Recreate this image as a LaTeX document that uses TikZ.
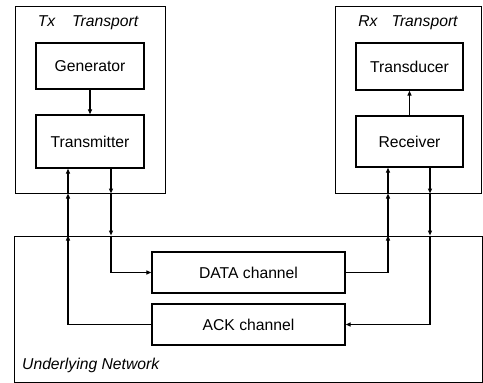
\documentclass[tikz,border=0pt]{standalone}
\usepackage{fontspec}
\setmainfont{Liberation Sans}
\usetikzlibrary{arrows.meta}
\begin{document}
\begin{tikzpicture}[x=1pt,y=-1pt,
  outerbox/.style={draw,line width=1pt,inner sep=0pt},
  innerbox/.style={draw,line width=1.3pt,inner sep=0pt,font=\fontsize{15.7}{18}\selectfont},
  titletext/.style={inner sep=0pt,font=\fontsize{15.7}{18}\selectfont\itshape},
  arr/.style={line width=1.2pt,-{Triangle[length=5pt,width=4pt]}},
  conn/.style={line width=1.2pt}]
\useasboundingbox (0,0) rectangle (483,383);
% outer boxes
\node[outerbox,minimum width=150pt,minimum height=187pt] (txbox) at (90,99.5) {};
\node[outerbox,minimum width=146pt,minimum height=187pt] (rxbox) at (408,99.5) {};
\node[outerbox,minimum width=468pt,minimum height=146pt] (net) at (248,309) {};
% titles
\node[titletext] (txt) at (88,23) {Tx\hspace{17pt}Transport};
\node[titletext] (rxt) at (408,23) {Rx\hspace{14pt}Transport};
\node[titletext,anchor=west] (nett) at (22,365) {Underlying Network};
% inner boxes
\node[innerbox,minimum width=108pt,minimum height=46pt] (gen) at (90,66) {Generator};
\node[innerbox,minimum width=108pt,minimum height=53pt] (tr) at (90,141.5) {Transmitter};
\node[innerbox,minimum width=107pt,minimum height=47pt] (tdc) at (409.5,66.5) {Transducer};
\node[innerbox,minimum width=107pt,minimum height=51pt] (rcv) at (409.5,141.5) {Receiver};
\node[innerbox,minimum width=193pt,minimum height=41pt] (data) at (248.5,272.5) {DATA channel};
\node[innerbox,minimum width=193pt,minimum height=41pt] (ack) at (248.5,324.5) {ACK channel};
% vertical line positions
\coordinate (xa) at (68,0);
\coordinate (xb) at (111,0);
\coordinate (xc) at (388,0);
\coordinate (xd) at (430,0);
% internal arrows
\draw[arr] (gen.south) -- (tr.north);
\draw[arr] (rcv.north) -- (tdc.south);
% Tx -> DATA (down at xb)
\draw[arr] (tr.south -| xb) -- (txbox.south -| xb);
\draw[arr] (txbox.south -| xb) -- (net.north -| xb);
\draw[arr] (net.north -| xb) -- (data.west -| xb) -- (data.west);
% ACK -> Tx (up at xa)
\draw[arr] (ack.west) -- (ack.west -| xa) -- (net.north -| xa);
\draw[arr] (net.north -| xa) -- (txbox.south -| xa);
\draw[arr] (txbox.south -| xa) -- (tr.south -| xa);
% DATA -> Rx (up at xc)
\draw[arr] (data.east) -- (data.east -| xc) -- (net.north -| xc);
\draw[arr] (net.north -| xc) -- (rxbox.south -| xc);
\draw[arr] (rxbox.south -| xc) -- (rcv.south -| xc);
% Rx -> ACK (down at xd)
\draw[arr] (rcv.south -| xd) -- (rxbox.south -| xd);
\draw[arr] (rxbox.south -| xd) -- (net.north -| xd);
\draw[arr] (net.north -| xd) -- (ack.east -| xd) -- (ack.east);
\end{tikzpicture}
\end{document}
